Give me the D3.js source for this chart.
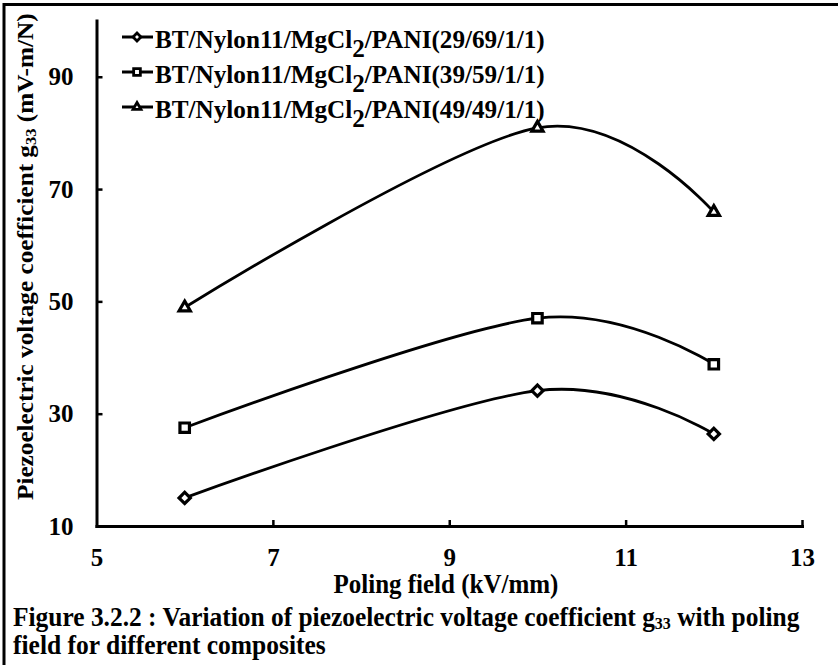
<!DOCTYPE html>
<html>
<head>
<meta charset="utf-8">
<script src="https://cdn.jsdelivr.net/npm/d3@7.9.0/dist/d3.min.js"></script>
<style>
  body { margin: 0; background: #fff; }
  svg { display: block; }
  svg text { font-family: "Liberation Serif", "Times New Roman", Times, serif; font-weight: 700; fill: #000; }
</style>
</head>
<body>
<svg id="chart" width="838" height="665"></svg>
<script>
// data
const polingField = [6, 10, 12];
const g33_29_69 = [15.0, 34.1, 26.4];
const g33_39_59 = [27.5, 47.0, 38.8];
const g33_49_49 = [48.9, 80.9, 65.9];
const ratios = ["29/69/1/1", "39/59/1/1", "49/49/1/1"];
const xTicks = [5, 7, 9, 11, 13];
const yTicks = [10, 30, 50, 70, 90];

const seriesList = [
  { ratio: ratios[0], values: g33_29_69, symbol: "diamond" },
  { ratio: ratios[1], values: g33_39_59, symbol: "square" },
  { ratio: ratios[2], values: g33_49_49, symbol: "triangle" }
];

const svg = d3.select("#chart");

let x = d3.scaleLinear().domain([5, 13]).range([96.5, 802]);
let y = d3.scaleLinear().domain([10, 100]).range([526, 20.6]);

// the figure's type is a tall, narrow bold serif: squeeze a text block
// horizontally so it covers width w, starting at x0 (or centred on it)
function squeeze(g, x0, yb, w, anchor) {
  let natural = g.node().getBBox().width;
  let k = w / natural;
  let left = anchor === "middle" ? x0 - w / 2 : x0;
  g.attr("transform", `translate(${left},${yb}) scale(${k},1)`);
}

// frame round the figure (top and left edges only are visible)
svg.append("line").attr("x1", 3).attr("x2", 838).attr("y1", 4.5).attr("y2", 4.5)
  .attr("stroke", "#000").attr("stroke-width", 3);
svg.append("line").attr("x1", 4).attr("x2", 4).attr("y1", 3).attr("y2", 665)
  .attr("stroke", "#000").attr("stroke-width", 3);

// axes
let xAxis = d3.axisBottom(x).tickValues(xTicks).tickSizeInner(-6).tickSizeOuter(0).tickPadding(22);
let yAxis = d3.axisLeft(y).tickValues(yTicks).tickSizeInner(-6).tickSizeOuter(0).tickPadding(23);

let gx = svg.append("g").attr("transform", "translate(0,526)").call(xAxis);
let gy = svg.append("g").attr("transform", "translate(96.5,0)").call(yAxis);

[gx, gy].forEach((g) => {
  g.attr("font-family", null).attr("font-size", 25);
  g.selectAll("path.domain").attr("stroke-width", 3).attr("stroke-linecap", "square");
  g.selectAll(".tick line").attr("stroke-width", 2.5);
  g.selectAll(".tick text").attr("font-size", 25).style("font-size", "25px");
});
gx.selectAll(".tick").filter((d) => d === 5).select("line").remove();

// x axis title
let xTitle = svg.append("g");
xTitle.append("text").style("font-size", "27px").text("Poling field (kV/mm)");
squeeze(xTitle, 446, 593, 225, "middle");

// y axis title
let yTitleWrap = svg.append("g").attr("transform", "translate(33,500) rotate(-90)");
let yTitle = yTitleWrap.append("g");
let yt = yTitle.append("text").style("font-size", "23px");
yt.append("tspan").text("Piezoelectric voltage coefficient g");
yt.append("tspan").style("font-size", "15px").attr("dy", 3).text("33");
yt.append("tspan").attr("dy", -3).text(" (mV-m/N)");
squeeze(yTitle, 0, 0, 487);

// curves and markers
let line = d3.line()
  .x((d) => x(d[0]))
  .y((d) => y(d[1]))
  .curve(d3.curveCardinal.tension(0));

function symbolPath(kind, size) {
  if (kind === "diamond") return d3.symbol(d3.symbolSquare, size * 0.7)();
  if (kind === "square") return d3.symbol(d3.symbolSquare, size)();
  return d3.symbol(d3.symbolTriangle, size * 0.6)();
}

seriesList.forEach((s) => {
  let pts = polingField.map((f, i) => [f, s.values[i]]);
  svg.append("path")
    .attr("d", line(pts))
    .attr("fill", "none")
    .attr("stroke", "#000")
    .attr("stroke-width", 2.8);

  svg.selectAll(null)
    .data(pts)
    .enter()
    .append("path")
    .attr("d", symbolPath(s.symbol, 90))
    .attr("transform", (d) => `translate(${x(d[0])},${y(d[1])})` + (s.symbol === "diamond" ? " rotate(45)" : ""))
    .attr("fill", "#fff")
    .attr("stroke", "#000")
    .attr("stroke-width", 3.2);
});

// legend
let legend = svg.append("g");
seriesList.forEach((s, i) => {
  let ly = 37 + i * 35;
  legend.append("line")
    .attr("x1", 122).attr("x2", 153).attr("y1", ly).attr("y2", ly)
    .attr("stroke", "#000").attr("stroke-width", 3);
  legend.append("path")
    .attr("d", symbolPath(s.symbol, 45))
    .attr("transform", `translate(137,${ly})` + (s.symbol === "diamond" ? " rotate(45)" : ""))
    .attr("fill", "#fff").attr("stroke", "#000").attr("stroke-width", 2.8);
  let lg = legend.append("g");
  let t = lg.append("text").style("font-size", "25px");
  t.append("tspan").text("BT/Nylon11/MgCl");
  t.append("tspan").attr("dy", 9).text("2");
  t.append("tspan").attr("dy", -9).text(`/PANI(${s.ratio})`);
  squeeze(lg, 155, ly + 11, 390);
});

// caption
let cap = svg.append("g");
let c1 = cap.append("text").style("font-size", "27px");
c1.append("tspan").text("Figure 3.2.2 : Variation of piezoelectric voltage coefficient g");
c1.append("tspan").style("font-size", "17px").attr("dy", 3).text("33");
c1.append("tspan").attr("dy", -3).text(" with poling");
squeeze(cap, 13, 626, 787);

let cap2 = svg.append("g");
cap2.append("text").style("font-size", "27px").text("field for different composites");
squeeze(cap2, 13, 654, 313);
</script>
</body>
</html>
